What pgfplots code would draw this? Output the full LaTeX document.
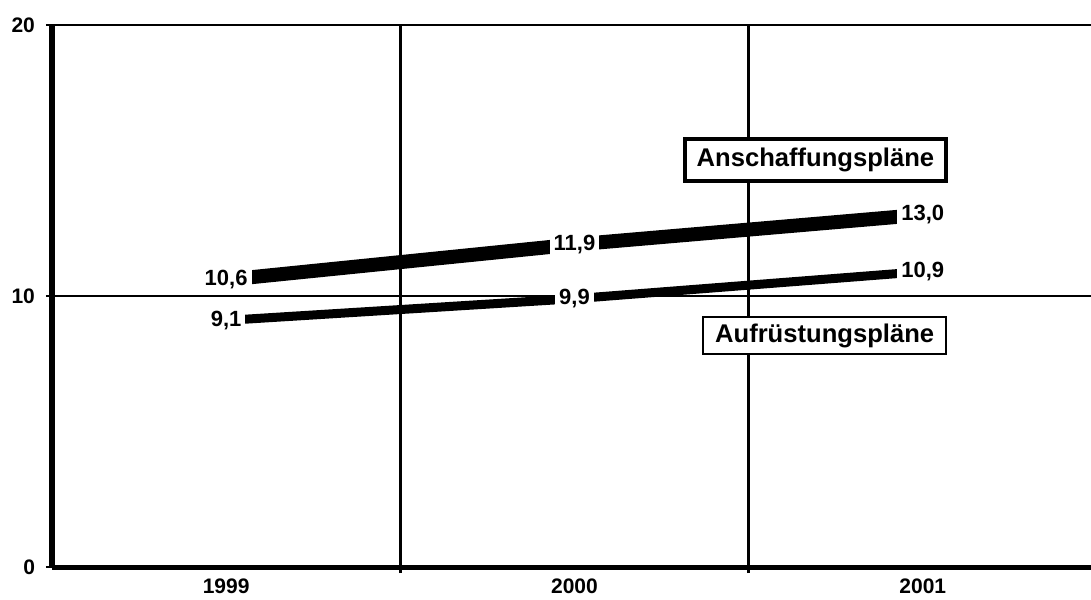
\documentclass[border=0pt]{standalone}
\usepackage{fontspec}
\setmainfont{Liberation Sans}
\usepackage{pgfplots}
\pgfplotsset{compat=1.18}
\begin{document}
\begin{tikzpicture}
\begin{axis}[
  scale only axis,
  width=519.5pt, height=271pt,
  xmin=-0.5, xmax=2.483, ymin=0, ymax=20,
  axis x line*=bottom, axis y line*=left,
  x axis line style={-, line width=2.5pt},
  y axis line style={-, line width=3pt},
  xtick={0.5,1.5}, xticklabels={},
  extra x ticks={0,1,2}, extra x tick labels={1999,2000,2001},
  extra x tick style={major tick length=0pt, grid=none, xticklabel style={yshift=-2.5pt}},
  xmajorgrids, ymajorgrids,
  grid style={black, line width=1.2pt},
  ytick={0,10,20}, yticklabels={0,10,20},
  tick align=outside, major tick length=3pt,
  tick style={black, line width=1.2pt},
  ticklabel style={font=\bfseries\fontsize{10.5}{12}\selectfont},
  yticklabel style={xshift=-2pt},
  /pgf/number format/assume math mode=true,
  clip=false,
  nodes near coords,
  every node near coord/.append style={anchor=center, fill=white, inner sep=2pt,
     font=\bfseries\fontsize{11}{13}\selectfont},
  /pgf/number format/.cd, use comma, fixed, fixed zerofill, precision=1,
]
\addplot[black, line width=7pt] coordinates {(0,10.6) (1,11.9) (2,13.0)};
\addplot[black, line width=4.5pt] coordinates {(0,9.1) (1,9.9) (2,10.9)};
\node[draw=black, line width=2pt, fill=white, anchor=east, inner xsep=6pt,
  minimum height=21pt, font=\bfseries\fontsize{12.8}{15}\selectfont]
  at (axis cs:2.073,15.02) {Anschaffungspläne};
\node[draw=black, line width=1pt, fill=white, anchor=east, inner xsep=6pt,
  minimum height=17.5pt, font=\bfseries\fontsize{12.8}{15}\selectfont]
  at (axis cs:2.070,8.54) {Aufrüstungspläne};
\coordinate (sw) at (rel axis cs:0,0);
\end{axis}
\pgfresetboundingbox
\path[use as bounding box] (sw) ++(-26pt,-16pt) rectangle ++(545.5pt,299.5pt);
\end{tikzpicture}
\end{document}
